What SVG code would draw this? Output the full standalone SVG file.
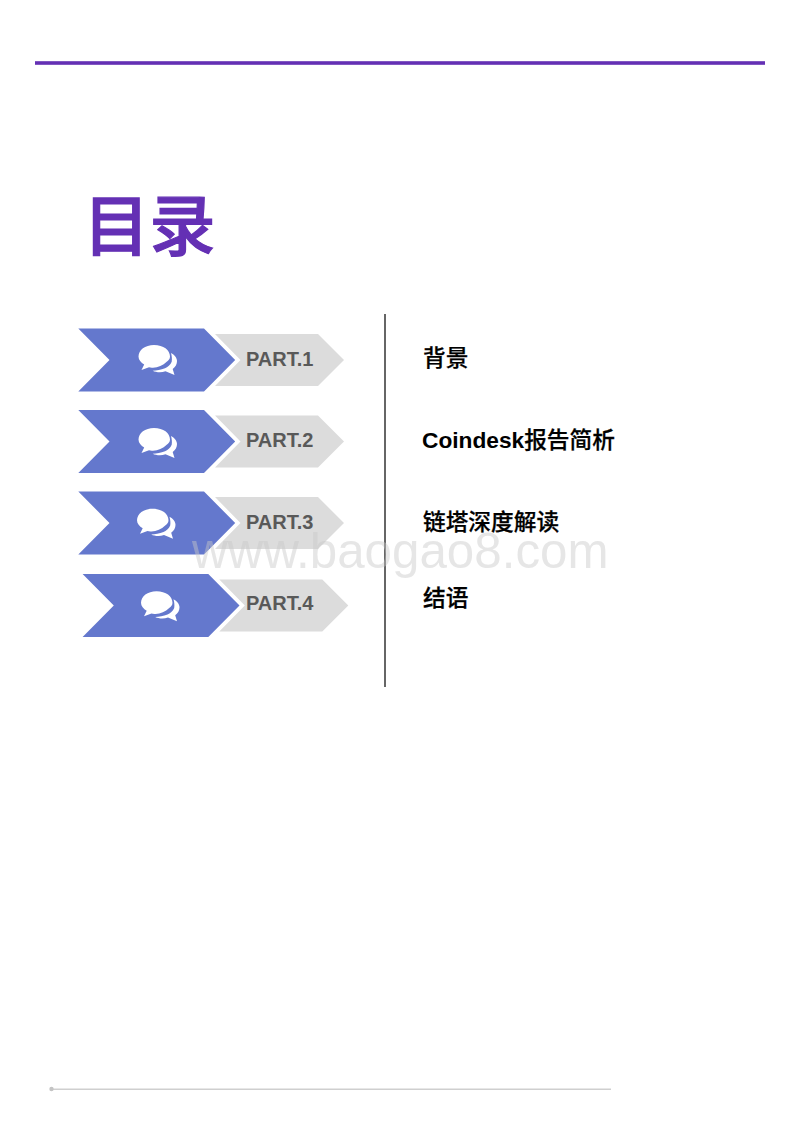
<svg xmlns="http://www.w3.org/2000/svg" width="800" height="1132" viewBox="0 0 800 1132">
<style>
.cn{font-family:"Liberation Sans","Noto Sans CJK SC",sans-serif;font-weight:500;font-size:22.700px;fill:#000;stroke:#000;stroke-width:.25}
.b{font-weight:700;stroke-width:0}
.part{font-family:"Liberation Sans",sans-serif;font-weight:700;font-size:20px;fill:#595959}
.gray{fill:#dcdcdc}
.blue{fill:#6478cd}
.icon{fill:#fff}
.wm{font-family:"Liberation Sans",sans-serif;font-size:49.300px;fill:#c8c8c8;fill-opacity:.45}
</style>
<defs>
<g id="arrow">
<path class="gray" d="M215 334H318L344 360L318 386H215L240.500 360Z"/>
<path class="blue" d="M78.300 328.500H204L235.200 360L204 391.500H78.300L109.500 360Z"/>
</g>
<g id="bubbles">
<path class="icon" d="M154 345C163.500 345 170 350 170 356.500C170 359 168.500 360.500 166.700 361.700C163 365.500 158 367.500 153 367.700C151.500 367.800 150 367.700 149 367.300L141.500 370L144.200 364.500C141 362.500 138.500 360 138.500 356.500C138.500 350 145 345 154 345Z"/>
<path class="icon" d="M171 353C171.800 356 172.200 359 171.700 361.700C170.500 365 167.500 367 165 368.300C161 370 156.500 370.500 152.700 370.700C156 372.300 161 372.800 165.500 371.300L174.500 375L172.700 369C175.500 367 177 364 177 361C177 358 174.500 354.500 171 353Z"/>
</g>
</defs>
<rect width="800" height="1132" fill="#fff"/>
<rect id="top-rule" x="35" y="61.200" width="730" height="3.600" fill="#6430b4"/>
<text id="title" x="83.500" y="250" font-family="'Liberation Sans','Noto Sans CJK SC',sans-serif" font-weight="500" font-size="66" fill="#6430b4" stroke="#6430b4" stroke-width="1.200">目录</text>
<g id="part-1"><use href="#arrow"/><use href="#bubbles"/><text class="part" x="246" y="365.500">PART.1</text></g>
<g id="part-2"><use href="#arrow" y="81.500"/><use href="#bubbles" y="83"/><text class="part" x="246" y="446.500">PART.2</text></g>
<g id="part-3"><use href="#arrow" y="163"/><use href="#bubbles" x="-1.500" y="163.700"/><text class="part" x="246" y="528.500">PART.3</text></g>
<g id="part-4"><use href="#arrow" x="4.300" y="245.500"/><use href="#bubbles" x="2.500" y="246.300"/><text class="part" x="246" y="609.500">PART.4</text></g>
<rect id="divider" x="384" y="314" width="2" height="373" fill="#666"/>
<text class="cn" x="423" y="366">背景</text>
<text class="cn" x="422" y="448"><tspan class="b">Coindesk</tspan>报告简析</text>
<text class="cn" x="423" y="530">链塔深度解读</text>
<text class="cn" x="423" y="606">结语</text>
<text class="wm" x="192" y="568">www.baogao8.com</text>
<g id="footer"><rect x="51" y="1088.500" width="560" height="1.500" fill="#cfcfcf"/><circle cx="51.500" cy="1089" r="2.200" fill="#c4c4c4"/></g>
</svg>
